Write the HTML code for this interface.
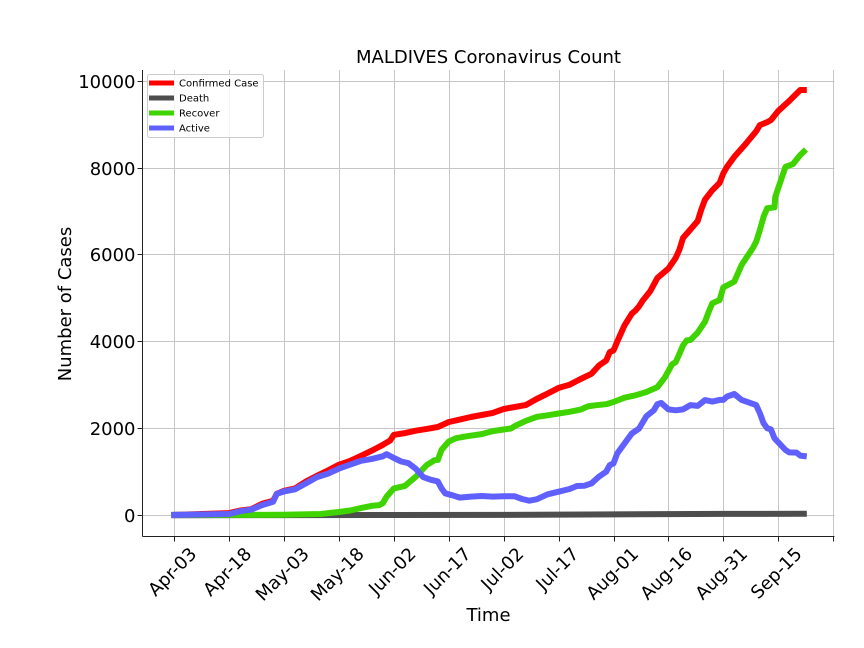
<!DOCTYPE html>
<html>
<head>
<meta charset="utf-8">
<title>MALDIVES Coronavirus Count</title>
<style>
html,body{margin:0;padding:0;background:#fff;}
svg{display:block;font-family:"DejaVu Sans","Liberation Sans",sans-serif;}
</style>
</head>
<body>
<svg id="chart" xmlns="http://www.w3.org/2000/svg" width="864" height="648" viewBox="0 0 864 648">
<rect x="0" y="0" width="864" height="648" fill="#ffffff"/>
<g id="grid"></g>
<g id="series"></g>
<g id="axes"></g>
<text x="488.5" y="63" font-size="18" text-anchor="middle" fill="#000">MALDIVES Coronavirus Count</text>
<text x="488.5" y="621" font-size="18" text-anchor="middle" fill="#000">Time</text>
<text x="0" y="0" transform="translate(71,304) rotate(-90)" font-size="18" text-anchor="middle" fill="#000">Number of Cases</text>
<g id="legend">
<rect x="147.5" y="74.5" width="116" height="63" rx="2" fill="#ffffff" fill-opacity="0.8" stroke="#cccccc"/>
<line x1="149" x2="174" y1="83" y2="83" stroke="#ff0000" stroke-width="5"/>
<text x="179" y="86.5" font-size="10" fill="#000">Confirmed Case</text>
<line x1="149" x2="174" y1="98" y2="98" stroke="#4d4d4d" stroke-width="5"/>
<text x="179" y="101.5" font-size="10" fill="#000">Death</text>
<line x1="149" x2="174" y1="113" y2="113" stroke="#3fd400" stroke-width="5"/>
<text x="179" y="116.5" font-size="10" fill="#000">Recover</text>
<line x1="149" x2="174" y1="128" y2="128" stroke="#6060ff" stroke-width="5"/>
<text x="179" y="131.5" font-size="10" fill="#000">Active</text>
</g>
</svg>
<script>
const xTickDays = [0,15,30,45,60,75,90,105,120,135,150,165,180];
const xTickLabels = ["Apr-03","Apr-18","May-03","May-18","Jun-02","Jun-17","Jul-02","Jul-17","Aug-01","Aug-16","Aug-31","Sep-15",""];
const yTicks = [0,2000,4000,6000,8000,10000];
const yTickLabels = ["0","2000","4000","6000","8000","10000"];

const confirmedDays = [0,15,18,21,24,27,28,30,33,36,39,42,45,48,51,54,57,59,60,63,66,69,72,75,78,81,84,87,90,93,96,99,102,105,108,111,114,116,118,119,120,121,123,125,126,127,128,130,132,135,137,138,139,141,143,144,145,147,149,150,151,153,156,159,160,162,163,165,168,171,172];
const confirmedValues = [10,50,110,140,265,335,495,565,620,780,910,1035,1165,1250,1370,1490,1625,1725,1855,1895,1950,1990,2035,2150,2205,2265,2310,2360,2450,2495,2540,2680,2805,2935,3010,3140,3260,3450,3570,3760,3800,4000,4375,4645,4720,4815,4950,5160,5470,5685,5930,6120,6390,6585,6780,7045,7275,7490,7660,7880,8030,8260,8545,8850,8990,9060,9105,9315,9545,9800,9800];

const deathDays = [0,30,60,90,120,150,172];
const deathValues = [0,4,7,10,20,32,35];

const recoverDays = [0,30,40,45,48,51,54,56,57,58,60,63,66,69,71,72,73,75,77,80,84,87,90,92,93,96,99,102,105,108,111,113,115,118,120,123,126,129,132,134,136,137,138,139,140,141,143,145,146,147,149,150,153,155,158,159,160,161,162,164,164.2,167,169,171,172];
const recoverValues = [10,12,30,75,110,165,220,235,280,430,620,677,892,1160,1265,1277,1507,1700,1777,1823,1870,1940,1977,2000,2055,2175,2268,2305,2345,2385,2435,2510,2535,2560,2610,2710,2765,2840,2955,3170,3480,3530,3720,3915,4030,4040,4210,4460,4690,4885,4960,5250,5385,5770,6150,6305,6575,6880,7075,7095,7340,8030,8090,8300,8380];

const activeDays = [0,15,18,21,24,27,28,30,33,36,39,42,45,48,51,54,57,58,60,62,64,66,68,70,72,73,74,76,78,81,84,87,90,93,95,97,99,102,105,108,110,112,114,116,118,119,120,121,123,125,127,129,131,132,133,135,137,139,141,143,145,147,149,150,151,153,155,159,160,161,162,163,164,167,168,170,171,172];
const activeValues = [10,30,95,130,235,310,495,550,600,740,880,960,1075,1165,1255,1300,1360,1410,1320,1240,1200,1070,880,820,780,623,507,460,407,430,445,430,437,437,375,337,368,483,544,605,675,680,735,890,1005,1157,1195,1425,1655,1885,2000,2283,2420,2560,2590,2440,2420,2440,2540,2520,2655,2620,2660,2660,2735,2795,2660,2540,2350,2120,2005,1980,1775,1505,1450,1445,1375,1367];

const seriesNames = ["confirmed-line","death-line","recover-line","active-line"];
const seriesColors = ["#ff0000","#4d4d4d","#3fd400","#6060ff"];
const seriesDays = [confirmedDays,deathDays,recoverDays,activeDays];
const seriesValues = [confirmedValues,deathValues,recoverValues,activeValues];

const NS = "http://www.w3.org/2000/svg";
const plotLeft = 142.5, plotRight = 834.5, plotTop = 70, plotBottom = 536.5;
function xScale(d){ return 174.3 + 3.66 * d; }
function yScale(v){ return 515.3 - 0.0434 * v; }
function make(parent, tag, attrs){
  const el = document.createElementNS(NS, tag);
  for (const k in attrs) el.setAttribute(k, attrs[k]);
  parent.appendChild(el);
  return el;
}
const grid = document.getElementById("grid");
const axes = document.getElementById("axes");
const series = document.getElementById("series");

xTickDays.forEach(function(d, i){
  const x = Math.round(xScale(d)) + 0.5;
  const g = make(grid, "line", {x1:x, x2:x, y1:plotTop, y2:plotBottom, stroke:"#c6c6c6", "stroke-width":1});
  
  
  const t = make(axes, "line", {x1:x, x2:x, y1:plotBottom, y2:plotBottom + 5, stroke:"#222", "stroke-width":1});
  
  
  if (xTickLabels[i]) {
    const lab = make(axes, "text", {"font-size":18, fill:"#000", "text-anchor":"middle"});
    
    
    lab.textContent = xTickLabels[i];
    const w = lab.getComputedTextLength();
    const cy = 545.5 + (w + 14) * 0.354;
    lab.setAttribute("transform", "translate(" + (x - 2.5) + "," + cy + ") rotate(-45) translate(0,6.5)");
  }
});
yTicks.forEach(function(v, i){
  const y = Math.round(yScale(v) - 0.5) + 0.5;
  const g = make(grid, "line", {x1:plotLeft, x2:plotRight, y1:y, y2:y, stroke:"#c6c6c6", "stroke-width":1});
  
  
  const t = make(axes, "line", {x1:plotLeft - 5, x2:plotLeft, y1:y, y2:y, stroke:"#222", "stroke-width":1});
  
  
  const lab = make(axes, "text", {x:plotLeft - 7, y:y + 6.5, "font-size":18, fill:"#000", "text-anchor":"end"});
  
  
  lab.textContent = yTickLabels[i];
});
const spineL = make(axes, "line", {x1:plotLeft, x2:plotLeft, y1:plotTop, y2:plotBottom, stroke:"#222", "stroke-width":1});


const spineB = make(axes, "line", {x1:plotLeft, x2:plotRight, y1:plotBottom, y2:plotBottom, stroke:"#222", "stroke-width":1});



seriesValues.forEach(function(vals, i){
  const days = seriesDays[i];
  const pts = vals.map(function(v, j){ return xScale(days[j]).toFixed(1) + "," + yScale(v).toFixed(1); }).join(" ");
  const line = make(series, "polyline", {points:pts, fill:"none", stroke:seriesColors[i], "stroke-width":6, "stroke-linecap":"square", "stroke-linejoin":"round"});
  
  
});
</script>
</body>
</html>
